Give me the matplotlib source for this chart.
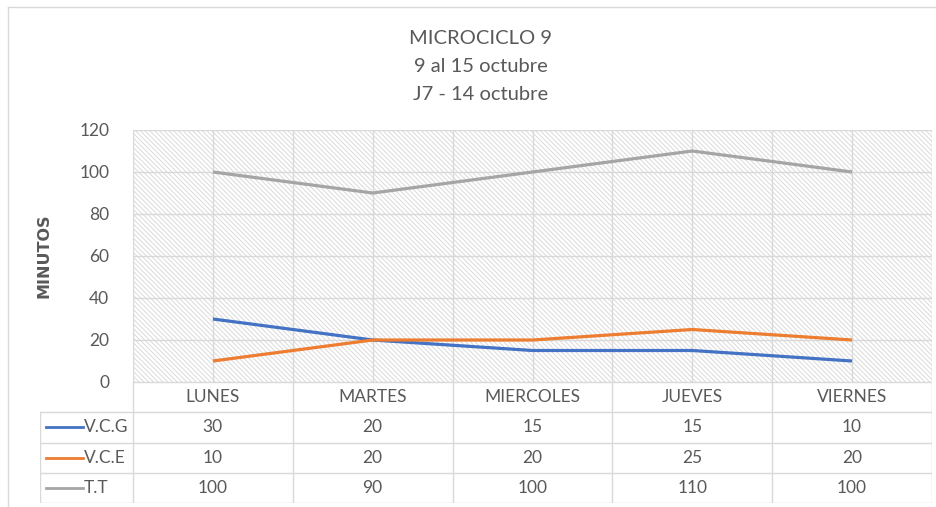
import matplotlib
matplotlib.use("Agg")
import matplotlib.pyplot as plt
from matplotlib.patches import Rectangle
from matplotlib.lines import Line2D

categories = ["LUNES", "MARTES", "MIERCOLES", "JUEVES", "VIERNES"]
series_names = ["V.C.G", "V.C.E", "T.T"]
vcg = [30, 20, 15, 15, 10]
vce = [10, 20, 20, 25, 20]
tt = [100, 90, 100, 110, 100]
series_values = [vcg, vce, tt]
colors = ["#4472C4", "#ED7D31", "#A5A5A5"]
yticks = [0, 20, 40, 60, 80, 100, 120]
title_lines = ["MICROCICLO 9", "9 al 15 octubre", "J7 - 14 octubre"]

FONT = ["Lato", "DejaVu Sans"]
plt.rcParams['font.family'] = FONT
plt.rcParams['hatch.linewidth'] = 0.7
TXT = "#595959"
GRID = "#d9d9d9"

W, H = 936, 507
fig = plt.figure(figsize=(W / 100, H / 100), dpi=100)

# outer chart border
fig.add_artist(Line2D([8 / W, 8 / W], [0, 1 - 7 / H], color=GRID, lw=1, transform=fig.transFigure))
fig.add_artist(Line2D([8 / W, 1], [1 - 7 / H, 1 - 7 / H], color=GRID, lw=1, transform=fig.transFigure))

L, R, T, B = 133, 932, 130, 382
ax = fig.add_axes([L / W, 1 - B / H, (R - L) / W, (B - T) / H])
n = len(categories)
x = list(range(n))
ax.set_xlim(-0.5, n - 0.5)
ax.set_ylim(0, 120)

# hatched background
ax.add_patch(Rectangle((0, 0), 1, 1, transform=ax.transAxes, facecolor="white",
                       edgecolor="#dadada", hatch="\\" * 7, lw=0, zorder=0))

for yv in yticks:
    ax.axhline(yv, color=GRID, lw=1, zorder=1)
for i in range(n):
    ax.axvline(i, color=GRID, lw=1, zorder=1)
    ax.axvline(i - 0.5, color=GRID, lw=1, zorder=1)
ax.axvline(n - 0.5, color=GRID, lw=1, zorder=1)

for vals, c, name in zip(series_values, colors, series_names):
    ax.plot(x, vals, color=c, lw=2.3, zorder=3, solid_capstyle="butt", label=name)

ax.set_yticks(yticks)
ax.set_yticklabels([str(v) for v in yticks], fontsize=12.5, color=TXT)
ax.tick_params(axis="y", length=0, pad=17)
ax.set_xticks([])
for s in ax.spines.values():
    s.set_visible(False)
ax.set_ylabel("MINUTOS", fontsize=11.5, fontweight="bold", color=TXT, labelpad=20,
              family=["DejaVu Sans"])

for k, yy in enumerate([37, 65, 93]):
    fig.text(481 / W, 1 - (yy + 1.5) / H, title_lines[k], ha="center", va="center",
             fontsize=14.5, color=TXT)

# data table
TL, TB = 40, 503
tax = fig.add_axes([TL / W, 1 - TB / H, (R - TL) / W, (TB - B) / H])
left_ext = -0.5 - (L - TL) / 160.0
tax.set_xlim(left_ext, n - 0.5)
tax.set_ylim(4, 0)
tax.axis("off")

tax.plot([-0.5, n - 0.5], [0, 0], color=GRID, lw=1)
for r in range(1, 5):
    tax.plot([left_ext, n - 0.5], [r, r], color=GRID, lw=1)
for i in range(n + 1):
    tax.plot([i - 0.5, i - 0.5], [0, 4], color=GRID, lw=1)
tax.plot([left_ext, left_ext], [1, 4], color=GRID, lw=1)

FS = 12.5
for i, c in enumerate(categories):
    tax.text(i, 0.5, c, ha="center", va="center", fontsize=FS, color=TXT)
for r, (vals, col, name) in enumerate(zip(series_values, colors, series_names), start=1):
    for i, v in enumerate(vals):
        tax.text(i, r + 0.5, str(v), ha="center", va="center", fontsize=FS, color=TXT)
    tax.plot([left_ext + 0.04, left_ext + 0.27], [r + 0.5, r + 0.5], color=col, lw=2)
    tax.text(left_ext + 0.275, r + 0.5, name, ha="left", va="center", fontsize=FS, color=TXT)

fig.savefig("out.png", dpi=100)
